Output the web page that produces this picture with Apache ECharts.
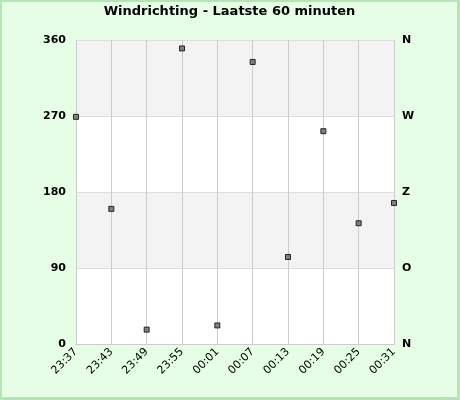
<!DOCTYPE html>
<html><head><meta charset="utf-8">
<script src="https://cdn.jsdelivr.net/npm/echarts@6/dist/echarts.min.js"></script>
<style>
html,body{margin:0;padding:0;background:#fff;}
#c{width:460px;height:400px;box-sizing:border-box;border-style:solid;border-color:#b6e4b6;border-width:2px 3px 3px 2px;background:#e5fee5;}
</style></head><body>
<div id="c"></div>
<script>
var categories = ['23:37','23:43','23:49','23:55','00:01','00:07','00:13','00:19','00:25','00:31'];
var direction = [269, 160, 17, 350, 22, 334, 103, 252, 143, 167];
var leftTicks = [0, 90, 180, 270, 360];
var compassLabels = ['N', 'O', 'Z', 'W', 'N'];

var chart = echarts.init(document.getElementById('c'), null, {renderer:'canvas'});
var font = 'DejaVu Sans';
chart.setOption({
  animation:false,
  title:{text:'Windrichting - Laatste 60 minuten', left:'center', top:-2,
    textStyle:{fontFamily:font, fontSize:13, fontWeight:'bold', color:'#000'}},
  grid:{left:74, right:63, top:38, bottom:53},
  xAxis:{type:'category', data:categories, boundaryGap:false,
    axisLine:{show:true, lineStyle:{color:'#cccccc'}},
    axisTick:{show:false},
    splitLine:{show:true, lineStyle:{color:'#cccccc', width:1}},
    axisLabel:{rotate:45, interval:0, fontFamily:font, fontSize:11, color:'#000', margin:6}},
  yAxis:[{type:'value', min:0, max:360, interval:90,
    axisLine:{show:false}, axisTick:{show:false},
    splitLine:{show:true, lineStyle:{color:'#dddddd'}},
    splitArea:{show:true, areaStyle:{color:['#ffffff','#f3f3f3']}},
    axisLabel:{fontFamily:font, fontSize:11, fontWeight:'bold', color:'#000', margin:10,
      formatter:function(v){return leftTicks.indexOf(v)>=0 ? String(v) : '';}}},
   {type:'value', min:0, max:360, interval:90, position:'right',
    axisLine:{show:true, lineStyle:{color:'#cccccc'}}, axisTick:{show:false},
    splitLine:{show:false},
    axisLabel:{fontFamily:font, fontSize:11, fontWeight:'bold', color:'#000', margin:8,
      formatter:function(v){return compassLabels[leftTicks.indexOf(v)];}}}],
  series:[{type:'scatter', data:direction, symbol:'rect', symbolSize:5, clip:true,
    itemStyle:{color:'#666666', borderColor:'#000', borderWidth:1}}]
});
</script></body></html>
